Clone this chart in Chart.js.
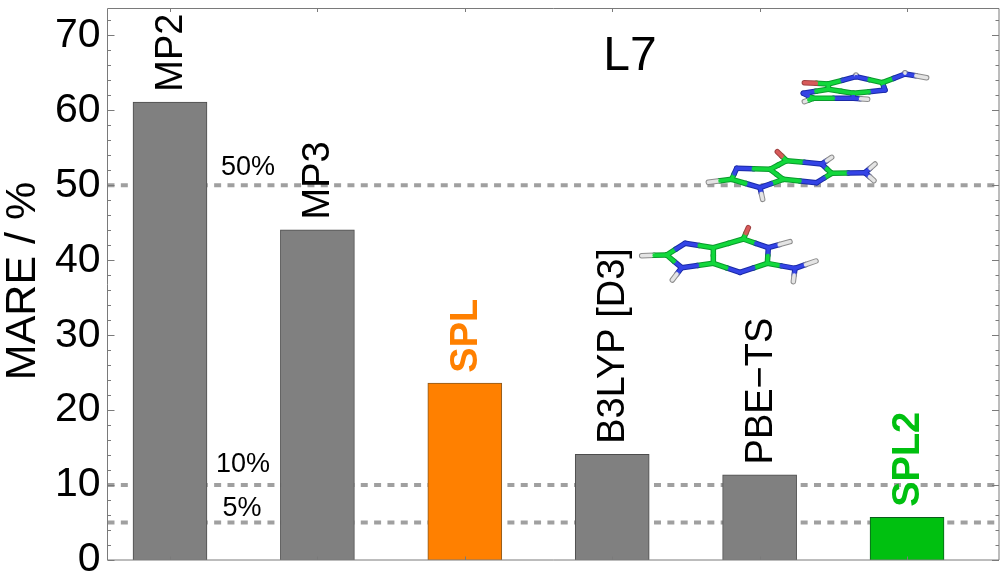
<!DOCTYPE html>
<html>
<head>
<meta charset="utf-8">
<title>L7</title>
<script src="https://cdn.jsdelivr.net/npm/chart.js@4"></script>
<style>
	html, body { margin: 0; padding: 0; background: #fff; }
	canvas { display: block; }
</style>
</head>
<body>
<canvas id="mare" width="1004" height="584"></canvas>
<script>

// Data
var methods = ['MP2', 'MP3', 'SPL', 'B3LYP [D3]', 'PBE\u2212TS', 'SPL2'];
var positions = [1, 2, 3, 4, 5, 6];
var mare = [61.1, 44.05, 23.6, 14.1, 11.35, 5.7];
var barColors = ['#808080', '#808080', '#ff8000', '#808080', '#808080', '#00c010'];
var barEdges = ['#4c4c4c', '#4c4c4c', '#8a5a20', '#4c4c4c', '#4c4c4c', '#0b5c1c'];
var labelColors = ['#000', '#000', '#ff8000', '#000', '#000', '#00c010'];
var labelWeights = ['normal', 'normal', 'bold', 'normal', 'normal', 'bold'];
var levels = [50, 10, 5];
var levelLabels = ['50%', '10%', '5%'];
var levelLabelX = [248, 243, 242];
var levelLabelGap = [10, 13, 7];
var xMin = 0.576;
var xMax = 6.624;
var yMax = 73.6;

// Molecules: [element, x, y] for each atom, then bonds between atoms
var atomColors = { C: '#12d83c', N: '#3444e6', O: '#d85a5a', H: '#e4e4e4' };
var atomEdges = { C: '#0a9a2c', N: '#1a2aa8', O: '#a04040', H: '#8c8c8c' };

var moleculeBottom = {
	x0: 630, y0: 215,
	atoms: [['H', 35, 122], ['C', 110, 120], ['N', 165, 85], ['C', 250, 98], ['C', 250, 145], ['N', 155, 158],
		['H', 127, 195], ['C', 340, 72], ['O', 355, 38], ['N', 415, 98], ['H', 480, 80], ['C', 412, 145],
		['N', 330, 172], ['N', 495, 160], ['H', 558, 138], ['H', 490, 200]],
	bonds: [[0, 1], [1, 2], [2, 3], [3, 4], [4, 5], [5, 1], [5, 6], [3, 7], [7, 8], [7, 9], [9, 10], [9, 11],
		[11, 12], [12, 4], [11, 13], [13, 14], [13, 15]]
};
var moleculeMiddle = {
	x0: 690, y0: 140,
	atoms: [['H', 55, 127], ['C', 125, 118], ['N', 140, 85], ['C', 240, 88], ['C', 280, 118], ['N', 210, 143],
		['H', 218, 178], ['C', 290, 62], ['O', 262, 35], ['N', 395, 72], ['H', 425, 52], ['C', 425, 100],
		['N', 380, 128], ['N', 525, 98], ['H', 555, 72], ['H', 552, 122]],
	bonds: moleculeBottom.bonds
};
var moleculeTop = {
	x0: 795, y0: 60,
	atoms: [['H', 28, 125], ['C', 55, 115], ['N', 25, 100], ['C', 100, 88], ['C', 175, 100], ['N', 175, 115],
		['H', 218, 118], ['C', 100, 72], ['O', 28, 68], ['N', 183, 50], ['H', 183, 45], ['C', 262, 68],
		['N', 270, 90], ['N', 330, 42], ['H', 395, 53], ['H', 330, 38]],
	bonds: moleculeBottom.bonds
};
var molecules = [moleculeTop, moleculeMiddle, moleculeBottom];

function drawMolecule(ctx, m) {
	function px(a) { return [m.x0 + a[1] / 3, m.y0 + a[2] / 3]; }
	function stroke(p, q, color, width) {
		ctx.strokeStyle = color;
		ctx.lineWidth = width;
		ctx.beginPath();
		ctx.moveTo(p[0], p[1]);
		ctx.lineTo(q[0], q[1]);
		ctx.stroke();
	}
	function pass(colors, width) {
		m.bonds.forEach(function(b) {
			var a1 = m.atoms[b[0]], a2 = m.atoms[b[1]];
			var p = px(a1), q = px(a2);
			var mid = [(p[0] + q[0]) / 2, (p[1] + q[1]) / 2];
			stroke(p, mid, colors[a1[0]], width);
			stroke(mid, q, colors[a2[0]], width);
		});
	}
	ctx.save();
	ctx.lineCap = 'round';
	ctx.filter = 'blur(0.5px)';
	pass(atomEdges, 5.5);
	pass(atomColors, 3.5);
	ctx.restore();
}

// Frame, inward ticks, rotated labels and text on top of the bars
var decorations = {
	id: 'decorations',
	afterDraw: function(chart) {
		var ctx = chart.ctx, x = chart.scales.x, y = chart.scales.y, area = chart.chartArea;
		var left = area.left, right = area.right, top = area.top, bottom = area.bottom;

		ctx.save();
		ctx.strokeStyle = '#7a7a7a';
		ctx.lineWidth = 1;
		ctx.beginPath();
		ctx.rect(left, top, right - left, bottom - top);
		for (var v = 0; v <= yMax; v += 2) {
			var py = Math.round(y.getPixelForValue(v)) + 0.5;
			var len = v % 10 === 0 ? 7 : 3.5;
			ctx.moveTo(left, py);
			ctx.lineTo(left + len, py);
			ctx.moveTo(right, py);
			ctx.lineTo(right - len, py);
		}
		positions.forEach(function(p) {
			var tx = Math.round(x.getPixelForValue(p)) + 0.5;
			ctx.moveTo(tx, top);
			ctx.lineTo(tx, top + 3.5);
			ctx.moveTo(tx, bottom);
			ctx.lineTo(tx, bottom - 3.5);
		});
		ctx.stroke();

		// Axis title
		ctx.save();
		ctx.translate(35, 281);
		ctx.rotate(-Math.PI / 2);
		ctx.textAlign = 'center';
		ctx.font = '43px "Liberation Sans"';
		ctx.fillStyle = '#000';
		ctx.fillText('MARE / %', 0, 0);
		ctx.restore();

		// Method names above the bars
		ctx.textAlign = 'left';
		ctx.textBaseline = 'alphabetic';
		methods.forEach(function(name, i) {
			ctx.save();
			ctx.translate(x.getPixelForValue(positions[i]) + 12, y.getPixelForValue(mare[i]) - 10.5);
			ctx.rotate(-Math.PI / 2);
			ctx.font = labelWeights[i] + ' 38px "Liberation Sans"';
			ctx.fillStyle = labelColors[i];
			ctx.fillText(name, 0, 0);
			ctx.restore();
		});

		// Reference line labels
		ctx.font = '27px "Liberation Sans"';
		ctx.fillStyle = '#000';
		ctx.textAlign = 'center';
		levels.forEach(function(level, i) {
			ctx.fillText(levelLabels[i], levelLabelX[i], y.getPixelForValue(level) - levelLabelGap[i]);
		});

		ctx.font = '48px "Liberation Sans"';
		ctx.fillText('L7', 630, 70);
		ctx.restore();

		molecules.forEach(function(m) { drawMolecule(ctx, m); });
	}
};

// One dashed line per reference level
var levelSets = levels.map(function(level) {
	return {
		type: 'line',
		data: [{ x: xMin, y: level }, { x: xMax, y: level }],
		borderColor: '#a0a0a0',
		borderWidth: 4,
		borderDash: [7, 6.33],
		pointRadius: 0,
		order: 2
	};
});

var chart = new Chart(document.getElementById('mare'), {
	type: 'bar',
	data: {
		datasets: [{
			label: 'MARE',
			data: positions.map(function(p, i) { return { x: p, y: mare[i] }; }),
			backgroundColor: barColors,
			borderColor: barEdges,
			borderWidth: 1,
			barThickness: 74,
			order: 1
		}].concat(levelSets)
	},
	options: {
		responsive: false,
		animation: false,
		layout: { padding: { top: 8.5, right: 5, bottom: 24, left: 0 } },
		plugins: { legend: { display: false }, tooltip: { enabled: false } },
		scales: {
			x: {
				type: 'linear',
				min: xMin,
				max: xMax,
				offset: false,
				display: false
			},
			y: {
				min: 0,
				max: yMax,
				grid: { display: false, drawTicks: false },
				border: { display: false },
				ticks: {
					stepSize: 2,
					autoSkip: false,
					includeBounds: false,
					padding: 7,
					color: '#000',
					font: { family: '"Liberation Sans"', size: 41 },
					callback: function(v) { return v % 10 === 0 ? String(v) : ''; }
				},
				afterFit: function(scale) {
					scale.width = 107.5;
					scale.paddingTop = 0;
					scale.paddingBottom = 0;
				}
			}
		}
	},
	plugins: [decorations]
});

</script>
</body>
</html>
